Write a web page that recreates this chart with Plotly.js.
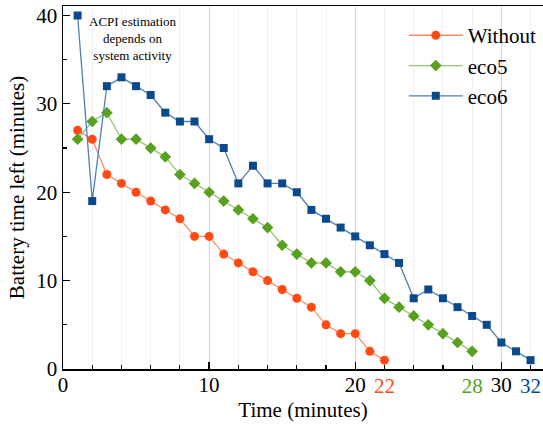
<!DOCTYPE html>
<html>
<head>
<meta charset="utf-8">
<script src="https://cdn.plot.ly/plotly-3.0.1.min.js"></script>
<style>html,body{margin:0;padding:0;background:#fff;}#chart{width:543px;height:425px;}</style>
</head>
<body>
<div id="chart"></div>
<script>
// Data
const timeWithout = [1,2,3,4,5,6,7,8,9,10,11,12,13,14,15,16,17,18,19,20,21,22];
const leftWithout = [27,26,22,21,20,19,18,17,15,15,13,12,11,10,9,8,7,5,4,4,2,1];

const timeEco5 = [1,2,3,4,5,6,7,8,9,10,11,12,13,14,15,16,17,18,19,20,21,22,23,24,25,26,27,28];
const leftEco5 = [26,28,29,26,26,25,24,22,21,20,19,18,17,16,14,13,12,12,11,11,10,8,7,6,5,4,3,2];

const timeEco6 = [1,2,3,4,5,6,7,8,9,10,11,12,13,14,15,16,17,18,19,20,21,22,23,24,25,26,27,28,29,30,31,32];
const leftEco6 = [40,19,32,33,32,31,29,28,28,26,25,21,23,21,21,20,18,17,16,15,14,13,12,8,9,8,7,6,5,3,2,1];

const seriesNames = ['Without', 'eco5', 'eco6'];
const xMajorTicks = [0, 10, 20, 30];
const xEndTicks = [22, 28, 32];
const xEndTickColors = ['#ff4a14', '#58a01e', '#0a4a8c'];
const yTicks = [0, 10, 20, 30, 40];
const noteText = 'ACPI estimation<br>depends on<br>system activity';

const FONT = 'Liberation Serif, Times New Roman, serif';
const XR = [0, 32.85];
const YR = [0, 41.07];

const traces = [
  {x: timeWithout, y: leftWithout, name: seriesNames[0], mode: 'lines+markers',
   line: {color: '#ff8a68', width: 1.3},
   marker: {symbol: 'circle', size: 9, color: '#ff4a14'}},
  {x: timeEco5, y: leftEco5, name: seriesNames[1], mode: 'lines+markers',
   line: {color: '#96c46e', width: 1.3},
   marker: {symbol: 'diamond', size: 9, color: '#58a01e'}},
  {x: timeEco6, y: leftEco6, name: seriesNames[2], mode: 'lines+markers', xaxis: 'x2',
   line: {color: '#4f80b6', width: 1.3},
   marker: {symbol: 'square', size: 8, color: '#0a4a8c'}}
];

const layout = {
  width: 543, height: 425,
  margin: {l: 63, r: 0, t: 6, b: 56},
  paper_bgcolor: '#fff', plot_bgcolor: '#fff',
  font: {family: FONT, size: 20, color: '#000'},
  showlegend: true,
  legend: {x: 0.71, y: 0.975, xanchor: 'left', yanchor: 'top',
           bgcolor: 'rgba(0,0,0,0)', font: {family: FONT, size: 21, color: '#000'},
           itemwidth: 54},
  xaxis: {
    range: XR, tickmode: 'array', tickvals: xMajorTicks,
    ticks: 'inside', ticklen: 7, tickwidth: 1.3, tickcolor: '#000',
    ticklabelstandoff: -4,
    showline: true, linecolor: '#000', linewidth: 1.5, mirror: true,
    showgrid: true, gridcolor: '#d4d4d4', gridwidth: 1, zeroline: false,
    tickfont: {family: FONT, size: 21, color: '#000'},
    minor: {dtick: 2, tick0: 0, ticks: 'inside', ticklen: 4, tickwidth: 1.2, tickcolor: '#000',
            showgrid: true, gridcolor: '#f0f0f0', gridwidth: 1},
    title: {text: 'Time (minutes)', font: {family: FONT, size: 21, color: '#000'}, standoff: 6}
  },
  xaxis2: {
    range: XR, overlaying: 'x', anchor: 'y', side: 'bottom',
    tickmode: 'array', tickvals: xEndTicks,
    ticktext: xEndTicks.map((v, i) => '<span style="color:' + xEndTickColors[i] + '">' + v + '</span>'),
    ticks: '', showgrid: false, showline: false, zeroline: false,
    ticklabelstandoff: 2,
    tickfont: {family: FONT, size: 21, color: '#000'}
  },
  yaxis: {
    range: YR, tickmode: 'array', tickvals: yTicks,
    ticks: 'inside', ticklen: 7, tickwidth: 1.3, tickcolor: '#000',
    showline: true, linecolor: '#000', linewidth: 1.5,
    showgrid: false, zeroline: false,
    tickfont: {family: FONT, size: 21, color: '#000'},
    minor: {dtick: 5, tick0: 0, ticks: 'inside', ticklen: 4, tickwidth: 1.2, tickcolor: '#000', showgrid: false},
    title: {text: 'Battery time left (minutes)', font: {family: FONT, size: 21, color: '#000'}, standoff: 6}
  },
  annotations: [{
    text: noteText, xref: 'x', yref: 'y', x: 4.8, y: 37.35,
    showarrow: false, font: {family: FONT, size: 13, color: '#000'}, align: 'center'
  }]
};

Plotly.newPlot('chart', traces, layout, {displayModeBar: false, staticPlot: true});
</script>
</body>
</html>
